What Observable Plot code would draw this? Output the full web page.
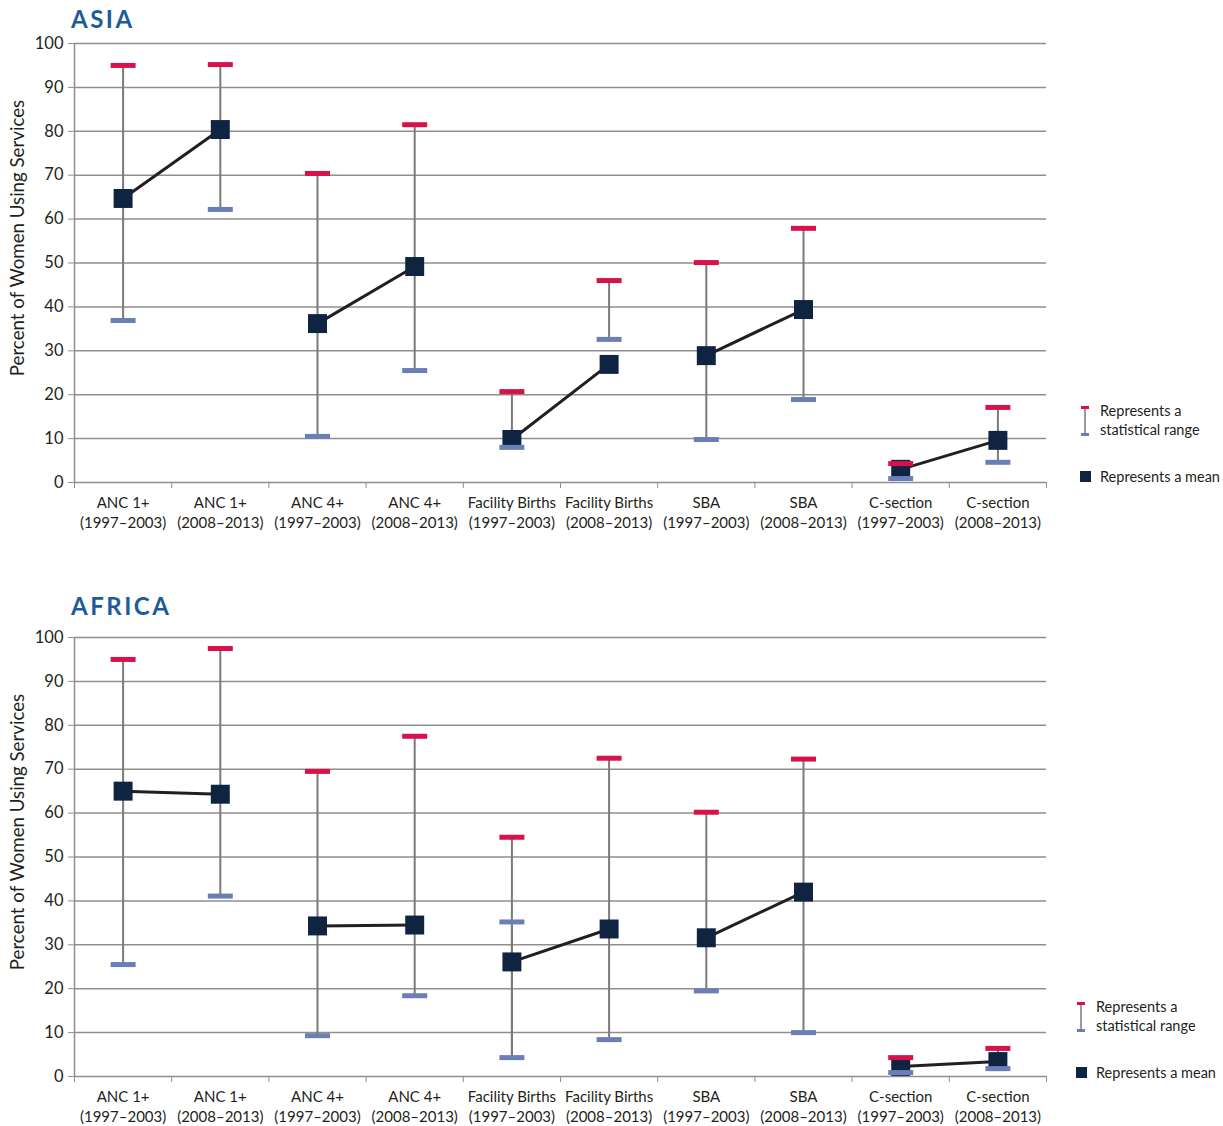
<!DOCTYPE html>
<html><head><meta charset="utf-8">
<script src="https://cdn.jsdelivr.net/npm/d3@7"></script>
<script src="https://cdn.jsdelivr.net/npm/@observablehq/plot@0.6"></script>
<style>
body{margin:0;background:#fff;font-family:Lato,sans-serif;}
#wrap{position:relative;width:1223px;height:1126px;overflow:hidden;}
.title{position:absolute;font-weight:bold;font-size:24px;line-height:1;color:#1b5c9b;letter-spacing:2.5px;}
.panel{position:absolute;left:0;}
</style></head><body><div id="wrap"></div>
<script>
const categories = [
  "ANC 1+\n(1997–2003)", "ANC 1+\n(2008–2013)",
  "ANC 4+\n(1997–2003)", "ANC 4+\n(2008–2013)",
  "Facility Births\n(1997–2003)", "Facility Births\n(2008–2013)",
  "SBA\n(1997–2003)", "SBA\n(2008–2013)",
  "C-section\n(1997–2003)", "C-section\n(2008–2013)"
];
const groups = ["ANC 1+","ANC 1+","ANC 4+","ANC 4+","Facility Births","Facility Births","SBA","SBA","C-section","C-section"];
const yTicks = [0,10,20,30,40,50,60,70,80,90,100];
const yLabel = "Percent of Women Using Services";

const asiaMean = [64.7, 80.4, 36.2, 49.2, 9.8, 26.9, 28.9, 39.4, 3.0, 9.6];
const asiaLow  = [36.9, 62.2, 10.5, 25.5, 8.0, 32.6, 9.8, 18.9, 0.9, 4.6];
const asiaHigh = [95.0, 95.2, 70.4, 81.5, 20.7, 46.0, 50.1, 57.9, 4.3, 17.1];

const africaMean = [65.0, 64.3, 34.3, 34.5, 26.1, 33.6, 31.6, 42.0, 2.3, 3.4];
const africaLow  = [25.5, 41.1, 9.3, 18.4, 4.3, 8.4, 19.5, 10.0, 0.9, 1.8];
const africaHigh = [95.0, 97.5, 69.5, 77.5, 54.5, 72.5, 60.2, 72.3, 4.3, 6.4];
const africaExtraLow = [null, null, null, null, 35.2, null, null, null, null, null];

const colors = {grid:"#8f8f8f", range:"#7a7a7a", high:"#d7124b", low:"#6a7fb6", mean:"#0f2441", line:"#231f20", text:"#231f20"};

const capSym = {draw(ctx){ ctx.rect(-12.5, -2.5, 25, 5); }};

function rowsOf(mean, low, high, extra) {
  return categories.map((c, i) => ({i, cat: c, group: groups[i], mean: mean[i], low: low[i], high: high[i], extra: extra ? extra[i] : null}));
}

function panel(rows) {
  return Plot.plot({
    width: 1060, height: 499,
    marginLeft: 74, marginRight: 14, marginTop: 10, marginBottom: 50,
    x: {domain: [-0.5, 9.5], axis: null},
    y: {domain: [0, 100], axis: null},
    style: {fontFamily: "Lato, sans-serif", color: colors.text, background: "transparent", overflow: "visible"},
    marks: [
      Plot.ruleY(yTicks, {stroke: colors.grid, strokeWidth: 1.5}),
      Plot.ruleX([-0.5], {stroke: colors.grid, strokeWidth: 1.5}),
      Plot.axisY({ticks: yTicks, tickSize: 6, tickPadding: 5, fontSize: 16.5, stroke: colors.grid, fill: colors.text, label: null}),
      Plot.text([yLabel], {frameAnchor: "left", textAnchor: "middle", rotate: -90, dx: -56, dy: -25, fontSize: 18.7, fill: colors.text}),
      Plot.axisX({ticks: d3.range(-0.5, 10, 1), tickSize: 6, tickFormat: () => "", stroke: colors.grid, label: null}),
      Plot.axisX({ticks: rows.map(d => d.i), tickSize: 0, tickPadding: 12, tickFormat: i => categories[i],
        fontSize: 15, lineHeight: 1.3, fill: colors.text, label: null}),
      Plot.ruleX(rows, {x: "i", y1: "low", y2: "high", stroke: colors.range, strokeWidth: 2}),
      Plot.ruleX(rows.filter(d => d.extra != null), {x: "i", y1: "low", y2: "extra", stroke: colors.range, strokeWidth: 2}),
      Plot.line(rows, {x: "i", y: "mean", z: "group", stroke: colors.line, strokeWidth: 3}),
      Plot.dot(rows, {x: "i", y: "mean", symbol: "square", r: 10.7, fill: colors.mean}),
      Plot.dot(rows, {x: "i", y: "high", symbol: capSym, fill: colors.high}),
      Plot.dot(rows, {x: "i", y: "low", symbol: capSym, fill: colors.low}),
      Plot.dot(rows.filter(d => d.extra != null), {x: "i", y: "extra", symbol: capSym, fill: colors.low})
    ]
  });
}

const wrap = document.getElementById("wrap");

function addPanel(title, titleTop, svgTop, rows, lx, ly) {
  const t = document.createElement("div");
  t.className = "title"; t.textContent = title;
  t.style.left = "71px"; t.style.top = titleTop + "px";
  wrap.appendChild(t);
  const p = document.createElement("div");
  p.className = "panel"; p.style.top = svgTop + "px";
  p.appendChild(panel(rows));
  wrap.appendChild(p);
  // legend
  const svg = d3.create("svg").attr("width", 1223 - lx).attr("height", 90)
    .style("position", "absolute").style("left", lx + "px").style("top", (ly - 4) + "px")
    .style("overflow", "visible")
    .style("font-family", "Lato, sans-serif").style("font-size", "14.5px");
  const g = svg.append("g").attr("transform", "translate(0,4)");
  g.append("line").attr("x1", 5).attr("x2", 5).attr("y1", 2).attr("y2", 29).attr("stroke", colors.range).attr("stroke-width", 1.5);
  g.append("rect").attr("x", 1).attr("y", 0).attr("width", 8).attr("height", 3).attr("fill", colors.high);
  g.append("rect").attr("x", 1).attr("y", 27).attr("width", 8).attr("height", 3).attr("fill", colors.low);
  g.append("text").attr("x", 20).attr("y", 10).attr("fill", colors.text).text("Represents a");
  g.append("text").attr("x", 20).attr("y", 29).attr("fill", colors.text).text("statistical range");
  g.append("rect").attr("x", 0).attr("y", 65).attr("width", 11).attr("height", 11).attr("fill", colors.mean);
  g.append("text").attr("x", 20).attr("y", 76).attr("fill", colors.text).text("Represents a mean");
  wrap.appendChild(svg.node());
}

addPanel("ASIA", 7, 33, rowsOf(asiaMean, asiaLow, asiaHigh), 1080, 406);
addPanel("AFRICA", 594, 627, rowsOf(africaMean, africaLow, africaHigh, africaExtraLow), 1076, 1002);
</script></body></html>
